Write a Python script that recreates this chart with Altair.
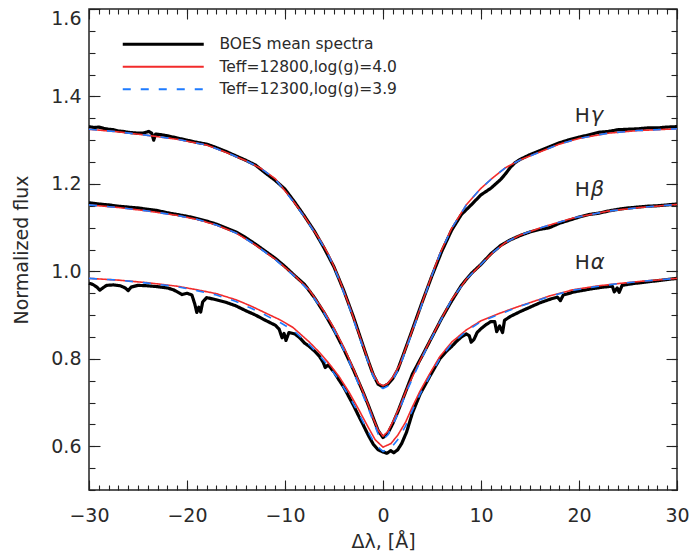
import altair as alt
import pandas as pd

FONT = "DejaVu Sans"
TXT = "#2a2a2a"

SERIES = ["BOES mean spectra", "Teff=12800,log(g)=4.0", "Teff=12300,log(g)=3.9"]
COLORS = ["#000000", "#f22b2b", "#1e7bff"]
DASHES = [[1, 0], [1, 0], [8, 10]]
WIDTHS = [3.2, 1.6, 1.6]

X_DOMAIN = [-30, 30]
Y_DOMAIN = [0.5, 1.6]
X_TICKS = [-30, -20, -10, 0, 10, 20, 30]
Y_TICKS = [0.6, 0.8, 1.0, 1.2, 1.4, 1.6]
X_MINOR = list(range(-30, 31))
Y_MINOR = [round(0.5 + 0.05 * i, 2) for i in range(23)]

# ---------------- H gamma ----------------
hg_mod_x = [-30, -27, -24, -21, -18, -16, -14, -12.5, -11, -9.2, -8, -6.4, -5.5, -4.6, -4.0, -3.3,
            -2.5, -1.8, -1.1, -0.5, 0, 0.5, 1.0, 1.7, 2.5, 3.5, 4.3, 5.0, 5.8, 7.0, 8.5, 10, 11.2,
            12.5, 14, 16, 18, 20, 23, 26, 30]
hg_red_y = [1.325, 1.319, 1.311, 1.302, 1.289, 1.272, 1.253, 1.236, 1.212, 1.162, 1.125, 1.071,
            1.036, 0.990, 0.955, 0.913, 0.860, 0.815, 0.770, 0.745, 0.738, 0.744, 0.758, 0.786,
            0.835, 0.897, 0.948, 0.992, 1.040, 1.098, 1.152, 1.190, 1.214, 1.237, 1.255, 1.273,
            1.291, 1.304, 1.316, 1.322, 1.326]
hg_blue_y = [1.325, 1.319, 1.311, 1.302, 1.289, 1.272, 1.253, 1.236, 1.211, 1.161, 1.124, 1.069,
             1.034, 0.987, 0.951, 0.909, 0.855, 0.810, 0.765, 0.739, 0.732, 0.738, 0.752, 0.781,
             0.831, 0.894, 0.946, 0.991, 1.039, 1.098, 1.152, 1.190, 1.214, 1.237, 1.255, 1.273,
             1.291, 1.304, 1.316, 1.322, 1.326]
hg_obs_x = [-30, -29.5, -29, -28.5, -28, -27.5, -27, -26.5, -26, -25.5, -25, -24.5, -24.2, -23.9,
            -23.6, -23.4, -23.2, -22.8, -22, -21, -20, -19, -18, -17, -16, -15, -14, -13, -12, -11,
            -10, -9, -8, -7, -6, -5, -4, -3, -2, -1.5, -1, -0.5, 0, 0.5, 1, 1.5, 2, 3, 4, 5, 6, 7,
            8, 9, 10, 11, 12, 12.5, 13, 13.5, 14, 15, 16, 17, 18, 19, 20, 21, 22, 23, 24, 25, 26,
            27, 28, 29, 30]
hg_obs_y = [1.331, 1.329, 1.330, 1.327, 1.325, 1.324, 1.321, 1.320, 1.318, 1.317, 1.316, 1.316,
            1.318, 1.320, 1.316, 1.300, 1.314, 1.313, 1.310, 1.305, 1.300, 1.295, 1.291, 1.283,
            1.274, 1.264, 1.254, 1.243, 1.225, 1.208, 1.188, 1.158, 1.126, 1.092, 1.053, 1.010,
            0.956, 0.895, 0.828, 0.795, 0.764, 0.742, 0.736, 0.742, 0.755, 0.775, 0.805, 0.867,
            0.930, 0.990, 1.046, 1.094, 1.130, 1.152, 1.175, 1.190, 1.210, 1.223, 1.238, 1.249,
            1.256, 1.267, 1.276, 1.285, 1.294, 1.301, 1.307, 1.312, 1.318, 1.320, 1.324, 1.325,
            1.326, 1.328, 1.328, 1.330, 1.331]

# ---------------- H beta ----------------
hb_mod_x = [-30, -27, -24, -21, -19, -17, -15, -13, -11, -9, -7.5, -6, -5, -4, -3.4, -2.5, -1.6,
            -1, -0.5, 0, 0.5, 1, 1.7, 2.5, 3.8, 4.8, 5.8, 7, 8.5, 10, 11.2, 12.5, 14, 16, 17, 19.4,
            23, 26.2, 30]
hb_red_y = [1.152, 1.146, 1.138, 1.128, 1.119, 1.106, 1.088, 1.060, 1.028, 0.990, 0.957, 0.908,
            0.870, 0.826, 0.797, 0.750, 0.700, 0.664, 0.637, 0.623, 0.634, 0.656, 0.690, 0.735,
            0.797, 0.842, 0.885, 0.935, 0.982, 1.016, 1.043, 1.066, 1.083, 1.099, 1.106, 1.122,
            1.138, 1.146, 1.153]
hb_blue_y = [1.152, 1.146, 1.138, 1.128, 1.119, 1.106, 1.088, 1.060, 1.027, 0.988, 0.954, 0.904,
             0.865, 0.820, 0.790, 0.742, 0.692, 0.657, 0.628, 0.615, 0.626, 0.648, 0.684, 0.730,
             0.794, 0.840, 0.884, 0.935, 0.982, 1.016, 1.043, 1.066, 1.083, 1.099, 1.106, 1.122,
             1.138, 1.146, 1.153]
hb_obs_x = [-30, -29, -28, -27, -26, -25, -24, -23, -22, -21, -20, -19, -18, -17, -16, -15, -14,
            -13, -12, -11, -10, -9, -8, -7, -6, -5, -4, -3, -2, -1.5, -1, -0.5, 0, 0.5, 1, 1.5, 2,
            3, 4, 5, 6, 7, 8, 9, 10, 11, 12, 13, 14, 15, 16, 17, 18, 19, 20, 21, 22, 23, 24, 25,
            26, 27, 28, 29, 30]
hb_obs_y = [1.157, 1.154, 1.152, 1.149, 1.147, 1.145, 1.142, 1.139, 1.134, 1.130, 1.126, 1.121,
            1.115, 1.108, 1.099, 1.090, 1.077, 1.062, 1.046, 1.030, 1.011, 0.990, 0.970, 0.940,
            0.905, 0.866, 0.822, 0.774, 0.722, 0.694, 0.665, 0.636, 0.620, 0.630, 0.652, 0.678,
            0.707, 0.765, 0.807, 0.850, 0.893, 0.932, 0.968, 0.995, 1.016, 1.040, 1.059, 1.072,
            1.082, 1.090, 1.096, 1.100, 1.110, 1.117, 1.124, 1.130, 1.133, 1.138, 1.142, 1.145,
            1.147, 1.149, 1.150, 1.152, 1.154]

# ---------------- H alpha ----------------
ha_mod_x = [-30, -27, -24, -21, -19, -17, -15, -13.5, -12, -10.5, -9.2, -8.5, -7.5, -6.5, -5.5,
            -4.5, -3.5, -2.5, -1.5, -0.8, 0, 0.8, 1.5, 2.3, 3, 3.8, 4.8, 5.8, 7, 8.5, 10, 12, 14,
            16, 17, 19.4, 22, 24, 26.2, 30]
ha_red_y = [0.984, 0.980, 0.974, 0.966, 0.958, 0.949, 0.935, 0.921, 0.905, 0.889, 0.872, 0.858,
            0.838, 0.815, 0.789, 0.760, 0.725, 0.685, 0.643, 0.615, 0.598, 0.606, 0.625, 0.655,
            0.690, 0.727, 0.767, 0.805, 0.838, 0.866, 0.887, 0.905, 0.921, 0.936, 0.944, 0.958,
            0.967, 0.972, 0.977, 0.984]
ha_blue_y = [0.984, 0.980, 0.973, 0.965, 0.956, 0.946, 0.931, 0.916, 0.900, 0.883, 0.866, 0.852,
             0.832, 0.808, 0.782, 0.752, 0.716, 0.676, 0.633, 0.604, 0.588, 0.596, 0.615, 0.646,
             0.682, 0.720, 0.761, 0.800, 0.834, 0.863, 0.885, 0.903, 0.920, 0.935, 0.943, 0.957,
             0.966, 0.972, 0.977, 0.984]
ha_obs_x = [-30, -29.6, -29.2, -28.9, -28.6, -28.2, -27.5, -26.8, -26.3, -26.0, -25.7, -25.0,
            -24.0, -23.0, -22.0, -21.4, -20.9, -20.5, -20.0, -19.5, -19.2, -19.0, -18.8, -18.6,
            -18.4, -18.0, -17.0, -16.0, -15.0, -14.0, -13.0, -12.0, -11.0, -10.6, -10.3, -10.1,
            -9.9, -9.6, -9.0, -8.5, -8.0, -7.5, -7.0, -6.5, -6.1, -5.9, -5.6, -5.0, -4.5, -4.0,
            -3.5, -3.0, -2.5, -2.0, -1.5, -1.0, -0.5, 0.0, 0.4, 0.8, 1.1, 1.5, 1.9, 2.4, 3.0, 3.8,
            4.8, 5.8, 6.5, 7.0, 7.5, 8.0, 8.5, 8.8, 9.0, 9.3, 9.6, 10.0, 10.5, 11.0, 11.4, 11.6,
            11.9, 12.2, 12.4, 13.0, 14.0, 15.0, 16.0, 17.0, 17.8, 18.1, 18.4, 19.5, 20.5, 21.5,
            22.5, 23.4, 23.6, 23.9, 24.1, 24.4, 25.5, 27.0, 28.5, 30.0]
ha_obs_y = [0.973, 0.970, 0.964, 0.957, 0.962, 0.968, 0.969, 0.967, 0.962, 0.956, 0.964, 0.968,
            0.967, 0.965, 0.962, 0.958, 0.952, 0.947, 0.950, 0.946, 0.925, 0.906, 0.918, 0.907,
            0.930, 0.940, 0.935, 0.929, 0.921, 0.910, 0.900, 0.888, 0.877, 0.868, 0.848, 0.858,
            0.842, 0.860, 0.857, 0.848, 0.836, 0.828, 0.818, 0.806, 0.792, 0.780, 0.786, 0.770,
            0.752, 0.735, 0.714, 0.693, 0.670, 0.648, 0.625, 0.605, 0.592, 0.587, 0.584, 0.590,
            0.585, 0.592, 0.606, 0.632, 0.676, 0.720, 0.761, 0.800, 0.818, 0.828, 0.840, 0.850,
            0.857, 0.853, 0.838, 0.845, 0.860, 0.869, 0.878, 0.885, 0.885, 0.862, 0.875, 0.860,
            0.888, 0.897, 0.908, 0.918, 0.928, 0.936, 0.941, 0.933, 0.946, 0.953, 0.957, 0.961,
            0.964, 0.966, 0.953, 0.962, 0.952, 0.968, 0.972, 0.976, 0.980, 0.984]

# line labels
LABEL_GREEK = ["γ", "β", "α"]
LABEL_X = [21.1, 21.1, 21.1]
LABEL_Y = [1.356, 1.187, 1.020]

rows = []
def add(profile, series, xs, ys):
    for a, b in zip(xs, ys):
        rows.append({"x": a, "y": b, "profile": profile, "series": series})

add("Hg", SERIES[0], hg_obs_x, hg_obs_y)
add("Hb", SERIES[0], hb_obs_x, hb_obs_y)
add("Ha", SERIES[0], ha_obs_x, ha_obs_y)
add("Hg", SERIES[1], hg_mod_x, hg_red_y)
add("Hb", SERIES[1], hb_mod_x, hb_red_y)
add("Ha", SERIES[1], ha_mod_x, ha_red_y)
add("Hg", SERIES[2], hg_mod_x, hg_blue_y)
add("Hb", SERIES[2], hb_mod_x, hb_blue_y)
add("Ha", SERIES[2], ha_mod_x, ha_blue_y)
df = pd.DataFrame(rows)

lab_df = pd.DataFrame({"x": LABEL_X, "y": LABEL_Y, "greek": LABEL_GREEK})
corner_df = pd.DataFrame({"x": X_DOMAIN, "y": Y_DOMAIN})

x_scale = alt.Scale(domain=X_DOMAIN, nice=False, zero=False)
y_scale = alt.Scale(domain=Y_DOMAIN, nice=False, zero=False)

legend = alt.Legend(
    orient="none", legendX=98, legendY=27.5, title=None,
    symbolType="M-8,0H1", symbolSize=324, labelOffset=17,
    labelFont=FONT, labelFontSize=15.5, labelColor=TXT, labelLimit=400,
    rowPadding=5.5, padding=0,
    symbolStrokeWidth=alt.ExprRef("datum.value == 'BOES mean spectra' ? 3 : 1.8"),
)

TICK = dict(domain=False, grid=False, tickColor="#222222", tickWidth=1.1, title=None)

X_MAIN = alt.Axis(orient="bottom", values=X_TICKS, format="d", tickSize=10, offset=-10,
                  labelFont=FONT, labelFontSize=19, labelColor=TXT, labelPadding=16,
                  labelFlush=False, labelOverlap=False, domain=False, grid=False,
                  tickColor="#222222", tickWidth=1.1,
                  title="Δλ, [Å]", titleFont=FONT, titleFontSize=19, titleFontWeight="normal",
                  titleColor=TXT, titleX=294, titleY=61, titleAlign="center", titleBaseline="middle")
Y_MAIN = alt.Axis(orient="left", values=Y_TICKS, format=".1f", tickSize=11, offset=-11,
                  labelFont=FONT, labelFontSize=19, labelColor=TXT, labelPadding=8,
                  labelFlush=True, labelOverlap=False, domain=False, grid=False,
                  tickColor="#222222", tickWidth=1.1,
                  title="Normalized flux", titleFont=FONT, titleFontSize=19, titleFontWeight="normal",
                  titleColor=TXT, titleX=-79, titleY=240.5, titleAngle=270, titleAlign="center",
                  titleBaseline="middle")

def line_layer(idx, main_axes=False):
    name = SERIES[idx]
    return alt.Chart(df).transform_filter(alt.datum.series == name).mark_line(
        strokeWidth=WIDTHS[idx], strokeJoin="round"
    ).encode(
        x=alt.X("x:Q", scale=x_scale, axis=X_MAIN if main_axes else None),
        y=alt.Y("y:Q", scale=y_scale, axis=Y_MAIN if main_axes else None),
        color=alt.Color("series:N", scale=alt.Scale(domain=SERIES, range=COLORS), legend=legend),
        strokeDash=alt.StrokeDash("series:N", scale=alt.Scale(domain=SERIES, range=DASHES), legend=legend),
        detail="profile:N",
    )

def axis_layer(xaxis, yaxis):
    return alt.Chart(corner_df).mark_point(opacity=0).encode(
        x=alt.X("x:Q", scale=x_scale, axis=xaxis),
        y=alt.Y("y:Q", scale=y_scale, axis=yaxis),
    )

ax_minor_bl = axis_layer(
    alt.Axis(orient="bottom", values=X_MINOR, tickSize=5, offset=-5, labels=False, **TICK),
    alt.Axis(orient="left", values=Y_MINOR, tickSize=6, offset=-6, labels=False, **TICK),
)
ax_major_tr = axis_layer(
    alt.Axis(orient="top", values=X_TICKS, tickSize=10, offset=-10, labels=False, **TICK),
    alt.Axis(orient="right", values=Y_TICKS, tickSize=11, offset=-11, labels=False, **TICK),
)
ax_minor_tr = axis_layer(
    alt.Axis(orient="top", values=X_MINOR, tickSize=5, offset=-5, labels=False, **TICK),
    alt.Axis(orient="right", values=Y_MINOR, tickSize=6, offset=-6, labels=False, **TICK),
)

h_text = alt.Chart(lab_df).mark_text(
    text="H", align="right", baseline="middle", font=FONT, fontSize=20, color=TXT
).encode(
    x=alt.X("x:Q", scale=x_scale, axis=None),
    y=alt.Y("y:Q", scale=y_scale, axis=None),
)
g_text = alt.Chart(lab_df).mark_text(
    align="left", baseline="middle", font=FONT, fontSize=21, fontStyle="italic", color=TXT, dx=1
).encode(
    x=alt.X("x:Q", scale=x_scale, axis=None),
    y=alt.Y("y:Q", scale=y_scale, axis=None),
    text="greek:N",
)

chart = alt.layer(
    line_layer(0, main_axes=True), line_layer(1), line_layer(2),
    ax_minor_bl, ax_major_tr, ax_minor_tr, h_text, g_text,
).resolve_axis(x="independent", y="independent").properties(
    width=588, height=481,
    padding={"left": 89, "top": 9, "right": 14, "bottom": 68},
    autosize=alt.AutoSizeParams(type="none"),
).configure_view(stroke="#222222", strokeWidth=1.5)

chart.save("out.html", embed_options={"renderer": "svg", "actions": False})
